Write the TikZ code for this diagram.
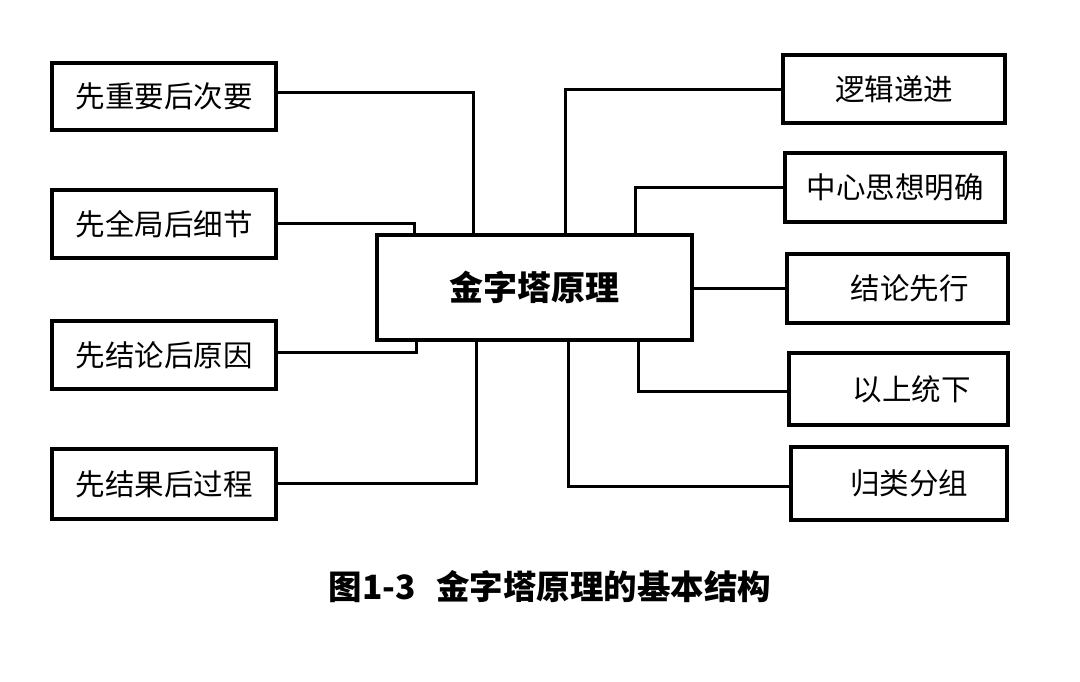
\documentclass[tikz,border=0pt]{standalone}
\usepackage{fontspec}
\newfontfamily\cjk{Noto Sans CJK SC}
\begin{document}
\begin{tikzpicture}[x=1pt,y=-1pt,
  box/.style={draw=black,line width=3.4pt,fill=white,rectangle,inner sep=0pt,
    font=\cjk\fontsize{29.5}{34}\selectfont},
  lbox/.style={box,minimum width=224pt,minimum height=68pt},
  rbox/.style={box,minimum width=220pt,minimum height=70pt},
  hub/.style={box,line width=3.8pt,minimum width=315pt,minimum height=105pt,
    font=\cjk\bfseries\fontsize{34}{40}\selectfont},
  conn/.style={draw=black,line width=3pt}]
\useasboundingbox[fill=white] (0,0) rectangle (1080,681);

\node[hub] (C) at (534.5,287.5) {金字塔原理};

\node[lbox,minimum height=67pt] (L1) at (164,96.5) {先重要后次要};
\node[lbox] (L2) at (164,224) {先全局后细节};
\node[lbox] (L3) at (164,355) {先结论后原因};
\node[lbox,minimum height=70pt] (L4) at (164,484) {先结果后过程};

\node[rbox,minimum width=222pt,minimum height=68pt] (R1) at (894,89) {逻辑递进};
\node[rbox,minimum height=69pt] (R2) at (895,187.5) {中心思想明确};
\node[rbox,minimum width=221pt,minimum height=69pt] (R3) at (897.5,288.5) {\hspace{24pt}结论先行};
\node[rbox,minimum width=219pt,minimum height=72pt] (R4) at (898.5,389) {\hspace{26pt}以上统下};
\node[rbox,minimum width=216pt,minimum height=73pt] (R5) at (899,483.5) {\hspace{20pt}归类分组};

\coordinate (xa) at (473,0);
\coordinate (xb) at (414,0);
\coordinate (xc) at (416,0);
\coordinate (xd) at (476,0);
\coordinate (xe) at (565,0);
\coordinate (xf) at (635,0);
\coordinate (xg) at (638,0);
\coordinate (xh) at (568,0);

\draw[conn] ([yshift=4.5pt]L1.east) -| (C.north -| xa);
\draw[conn] ([yshift=1pt]L2.east) -| (C.north -| xb);
\draw[conn] ([yshift=3pt]L3.east) -| (C.south -| xc);
\draw[conn] ([yshift=1pt]L4.east) -| (C.south -| xd);

\draw[conn] (R1.west) -| (C.north -| xe);
\draw[conn] (R2.west) -| (C.north -| xf);
\draw[conn] (C.east |- R3.west) -- (R3.west);
\draw[conn] (C.south -| xg) |- ([yshift=-2pt]R4.west);
\draw[conn] (C.south -| xh) |- ([yshift=-2.5pt]R5.west);

\node[font=\cjk\bfseries\fontsize{33.5}{40}\selectfont,inner sep=0pt] (cap) at (550,587) {图1-3\hspace{0.6em}金字塔原理的基本结构};
\end{tikzpicture}
\end{document}
